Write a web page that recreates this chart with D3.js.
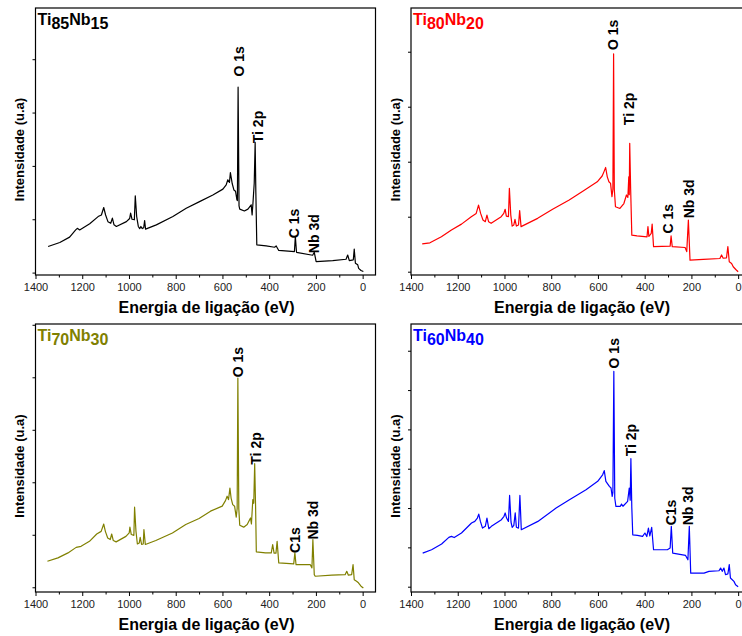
<!DOCTYPE html>
<html>
<head>
<meta charset="utf-8">
<script src="https://cdn.jsdelivr.net/npm/d3@7"></script>
<style>
body { margin: 0; background: #fff; }
svg { display: block; font-family: Arial, 'Liberation Sans', sans-serif; }
</style>
</head>
<body>
<svg id="chart" width="742" height="636"></svg>
<script>
'use strict';

// Survey spectra: [binding energy (eV), intensity (arb. units)]
var ti85nb15 = [[1346, 9.8], [1296, 11.3], [1254, 13.3], [1228, 16.0], [1221, 16.6], [1211, 16.0],
    [1168, 18.3], [1132, 21.0], [1118, 21.6], [1108, 24.4], [1100, 21.6], [1090, 19.1], [1078, 18.5],
    [1071, 20.4], [1064, 17.9], [1054, 17.3], [1011, 19.1], [997, 20.3], [993, 22.3], [987, 20.0],
    [977, 19.8], [973, 28.8], [967, 21.0], [960, 17.3], [954, 16.5], [949, 17.3], [943, 16.5],
    [937, 16.8], [933, 19.5], [929, 16.3], [883, 17.9], [812, 21.0], [755, 24.1], [698, 26.6],
    [641, 29.1], [598, 31.3], [584, 32.9], [577, 34.8], [570, 33.8], [566, 37.5], [558, 33.3],
    [551, 31.0], [544, 30.5], [538, 27.3], [536, 27.0], [533, 69.5], [529, 25.0], [526, 23.8],
    [506, 23.1], [491, 23.8], [477, 25.4], [473, 21.6], [469, 26.6], [464, 33.5], [460, 48.8],
    [457, 30.0], [453, 10.4], [413, 10.0], [377, 9.5], [370, 10.0], [359, 8.3], [292, 7.9],
    [288, 13.5], [283, 7.6], [214, 6.5], [207, 7.6], [199, 4.1], [128, 4.5], [71, 5.0], [64, 6.6],
    [57, 4.5], [40, 4.8], [36, 8.8], [31, 3.5], [21, 2.9], [17, 1.6], [7, 0.8], [-3, 0.4]];

var ti80nb20 = [[1352, 10.1], [1319, 10.5], [1270, 12.7], [1227, 15.2], [1184, 17.3], [1142, 20.0],
    [1121, 21.2], [1111, 24.2], [1102, 21.2], [1092, 18.8], [1082, 18.2], [1075, 20.6], [1068, 18.2],
    [1057, 17.6], [1014, 20.0], [1003, 21.2], [997, 22.7], [992, 20.2], [983, 20.0], [979, 30.3],
    [973, 20.6], [967, 16.6], [960, 17.0], [955, 19.0], [949, 16.6], [940, 17.0], [935, 22.2],
    [929, 16.4], [858, 19.4], [794, 22.7], [723, 26.1], [660, 29.5], [603, 32.7], [582, 34.8],
    [574, 36.4], [567, 37.9], [560, 34.5], [553, 32.7], [546, 32.1], [540, 27.3], [536, 30.0],
    [533, 79.2], [530, 30.0], [525, 23.6], [506, 23.0], [489, 24.8], [478, 27.9], [472, 27.0],
    [468, 34.5], [466, 28.0], [464, 46.7], [460, 30.0], [455, 13.3], [433, 13.0], [390, 12.7],
    [386, 16.4], [382, 12.8], [372, 13.9], [368, 17.3], [362, 9.1], [291, 9.3], [287, 13.0],
    [282, 9.1], [227, 8.8], [220, 7.3], [213, 18.8], [206, 4.2], [149, 4.5], [78, 4.8], [71, 6.1],
    [64, 4.9], [50, 5.0], [44, 9.1], [38, 3.6], [28, 3.0], [21, 1.8], [10, 0.8], [0, 0.0]];

var ti70nb30 = [[1349, 9.9], [1304, 11.2], [1261, 13.1], [1226, 15.2], [1205, 15.6], [1169, 17.5],
    [1138, 20.3], [1119, 21.3], [1108, 24.1], [1101, 21.3], [1091, 18.8], [1080, 18.2], [1074, 20.3],
    [1067, 17.8], [1055, 17.3], [1013, 19.4], [999, 20.7], [996, 22.9], [990, 20.1], [979, 19.8],
    [976, 30.5], [970, 21.3], [964, 16.5], [956, 16.9], [952, 19.0], [946, 16.3], [939, 16.5],
    [936, 22.0], [930, 16.3], [885, 17.8], [814, 20.7], [757, 23.9], [700, 26.2], [651, 29.0],
    [601, 30.9], [587, 33.0], [580, 34.7], [574, 33.4], [568, 37.8], [563, 34.0], [556, 31.5],
    [548, 30.9], [541, 26.7], [537, 30.0], [534, 79.7], [530, 30.0], [526, 23.6], [509, 22.9],
    [494, 23.9], [480, 26.4], [476, 24.1], [470, 33.4], [466, 32.0], [462, 47.1], [458, 30.0],
    [455, 13.5], [416, 13.1], [391, 13.1], [385, 16.3], [379, 13.0], [371, 13.0], [366, 17.5],
    [359, 9.3], [295, 8.9], [290, 13.1], [285, 8.6], [224, 8.6], [217, 7.4], [213, 18.2], [207, 4.8],
    [203, 4.2], [132, 4.6], [75, 4.8], [68, 6.1], [61, 4.6], [47, 4.8], [41, 8.6], [36, 2.9],
    [26, 2.3], [18, 1.7], [7, 0.4], [-3, -0.3]];

var ti60nb40 = [[1350, 17.1], [1312, 18.8], [1269, 21.7], [1238, 25.1], [1227, 25.6], [1215, 25.0],
    [1184, 27.3], [1141, 32.4], [1127, 33.2], [1116, 34.9], [1110, 36.9], [1103, 33.2], [1094, 29.8],
    [1082, 30.7], [1075, 34.9], [1067, 29.5], [1056, 30.7], [1013, 34.1], [1002, 35.8], [997, 37.5],
    [991, 34.9], [983, 33.2], [978, 46.4], [972, 32.9], [967, 30.2], [960, 31.2], [954, 37.5],
    [949, 30.2], [940, 29.8], [934, 46.4], [928, 29.0], [857, 33.2], [779, 40.0], [722, 44.2],
    [651, 49.3], [601, 53.6], [580, 56.9], [573, 59.0], [566, 53.6], [551, 51.0], [544, 50.2],
    [539, 45.9], [536, 48.0], [532, 109.5], [528, 45.0], [523, 40.8], [505, 40.8], [499, 42.0],
    [493, 40.9], [473, 43.4], [466, 50.2], [462, 44.0], [459, 65.1], [455, 40.0], [451, 26.4],
    [431, 26.1], [409, 25.6], [399, 27.3], [391, 25.5], [384, 29.8], [378, 25.8], [370, 30.2],
    [362, 18.8], [303, 18.8], [291, 19.7], [286, 30.7], [280, 17.1], [225, 15.9], [215, 13.7],
    [209, 30.7], [203, 6.9], [146, 6.9], [125, 7.8], [82, 8.1], [75, 9.5], [68, 7.8], [61, 9.5],
    [54, 6.1], [44, 6.5], [38, 11.2], [33, 4.4], [18, 2.7], [11, 1.0], [0, 0.0]];

// Peak assignments: [label, energy, intensity at the foot of the label]
var peaks85 = [['O 1s', 530, 73.5], ['Ti 2p', 449, 48.5], ['C 1s', 292, 12.9], ['Nb 3d', 207, 7.3]];
var peaks80 = [['O 1s', 535, 80.6], ['Ti 2p', 468, 53.3], ['C 1s', 298, 13.9], ['Nb 3d', 209, 19.4]];
var peaks70 = [['O 1s', 533, 80.0], ['Ti 2p', 456, 46.7], ['C1s', 291, 13.1], ['Nb 3d', 213, 18.2]];
var peaks60 = [['O 1s', 530, 111.0], ['Ti 2p', 459, 66.3], ['C1s', 286, 31.2], ['Nb 3d', 213, 31.2]];

// Composition labels (Ti, Nb)
var tiContent = ['85', '80', '70', '60'];
var nbContent = ['15', '20', '30', '40'];

var xMajorTicks = [1400, 1200, 1000, 800, 600, 400, 200, 0];
var xMinorTicks = [1300, 1100, 900, 700, 500, 300, 100];

var xTitle = 'Energia de ligação (eV)';
var yTitle = 'Intensidade (u.a)';

var samples = [
    { data: ti85nb15, peaks: peaks85, color: '#000000' },
    { data: ti80nb20, peaks: peaks80, color: '#ff0000' },
    { data: ti70nb30, peaks: peaks70, color: '#808000' },
    { data: ti60nb40, peaks: peaks60, color: '#0000ff' }
];

// Panel frames in page pixels
var PANEL_W = 340;
var panels = [
    { left: 35.5, top: 8, height: 267, yDomain: [-0.9, 99.2] },
    { left: 411, top: 8, height: 267, yDomain: [-1.2, 95.9] },
    { left: 35.5, top: 324, height: 268, yDomain: [-1.8, 100.3] },
    { left: 411, top: 324, height: 268, yDomain: [-2.7, 133.6] }
];

var svg = d3.select('#chart');

function drawPanel(p, s, i) {
    var w = PANEL_W, h = p.height;
    var g = svg.append('g')
        .attr('transform', 'translate(' + p.left + ',' + p.top + ')');

    var x = d3.scaleLinear().domain([1400, -55]).range([0, w]);
    var y = d3.scaleLinear().domain(p.yDomain).range([h, 0]);

    var line = d3.line()
        .x(function(d) { return x(d[0]); })
        .y(function(d) { return y(d[1]); });

    g.append('path')
        .datum(s.data)
        .attr('d', line)
        .style('fill', 'none')
        .style('stroke', s.color)
        .style('stroke-width', 1.2)
        .style('stroke-linejoin', 'round');

    // x axis, major + minor ticks
    var xAxis = d3.axisBottom(x)
        .tickValues(xMajorTicks)
        .tickSize(4)
        .tickPadding(4)
        .tickFormat(d3.format('d'));
    var xg = g.append('g')
        .attr('transform', 'translate(0,' + h + ')')
        .call(xAxis);
    var xMinor = d3.axisBottom(x)
        .tickValues(xMinorTicks)
        .tickSize(2.5)
        .tickFormat('');
    var xmg = g.append('g')
        .attr('transform', 'translate(0,' + h + ')')
        .call(xMinor);

    // y axis, unlabeled ticks
    var yMax = p.yDomain[1];
    var yAxis = d3.axisLeft(y)
        .tickValues(d3.range(0, yMax, 20))
        .tickSize(3)
        .tickFormat('');
    var yg = g.append('g').call(yAxis);

    [xg, xmg, yg].forEach(function(a) {
        a.select('.domain').remove();
        a.selectAll('line').style('stroke', '#000').style('stroke-width', 1);
    });
    xg.selectAll('text')
        .style('font-family', 'Arial, "Liberation Sans", sans-serif')
        .style('font-size', '11px')
        .style('fill', '#222');

    // frame
    g.append('rect')
        .attr('x', 0)
        .attr('y', 0)
        .attr('width', w)
        .attr('height', h)
        .style('fill', 'none')
        .style('stroke', '#000')
        .style('stroke-width', 1.2);

    // peak labels
    g.selectAll('.peak')
        .data(s.peaks)
        .enter().append('text')
        .attr('class', 'peak')
        .attr('transform', function(d) {
            return 'translate(' + x(d[1]) + ',' + y(d[2]) + ') rotate(-90)';
        })
        .attr('dy', '0.35em')
        .style('font-size', '14px')
        .style('font-weight', 'bold')
        .style('fill', '#000')
        .text(function(d) { return d[0]; });

    // sample label with subscripts
    var label = g.append('text')
        .attr('x', 2)
        .attr('y', 17)
        .style('font-size', '16px')
        .style('font-weight', 'bold')
        .style('fill', s.color);
    label.append('tspan').text('Ti');
    label.append('tspan').attr('dy', 4).text(tiContent[i]);
    label.append('tspan').attr('dy', -4).text('Nb');
    label.append('tspan').attr('dy', 4).text(nbContent[i]);

    // axis titles
    g.append('text')
        .attr('x', w / 2 + 1)
        .attr('y', h + 38)
        .attr('text-anchor', 'middle')
        .style('font-size', '16px')
        .style('font-weight', 'bold')
        .text(xTitle);

    g.append('text')
        .attr('transform', 'translate(-16,' + (h / 2 + 8) + ') rotate(-90)')
        .attr('text-anchor', 'middle')
        .attr('dy', '0.35em')
        .style('font-size', '13px')
        .style('font-weight', 'bold')
        .text(yTitle);
}

samples.forEach(function(s, i) { drawPanel(panels[i], s, i); });
</script>
</body>
</html>
